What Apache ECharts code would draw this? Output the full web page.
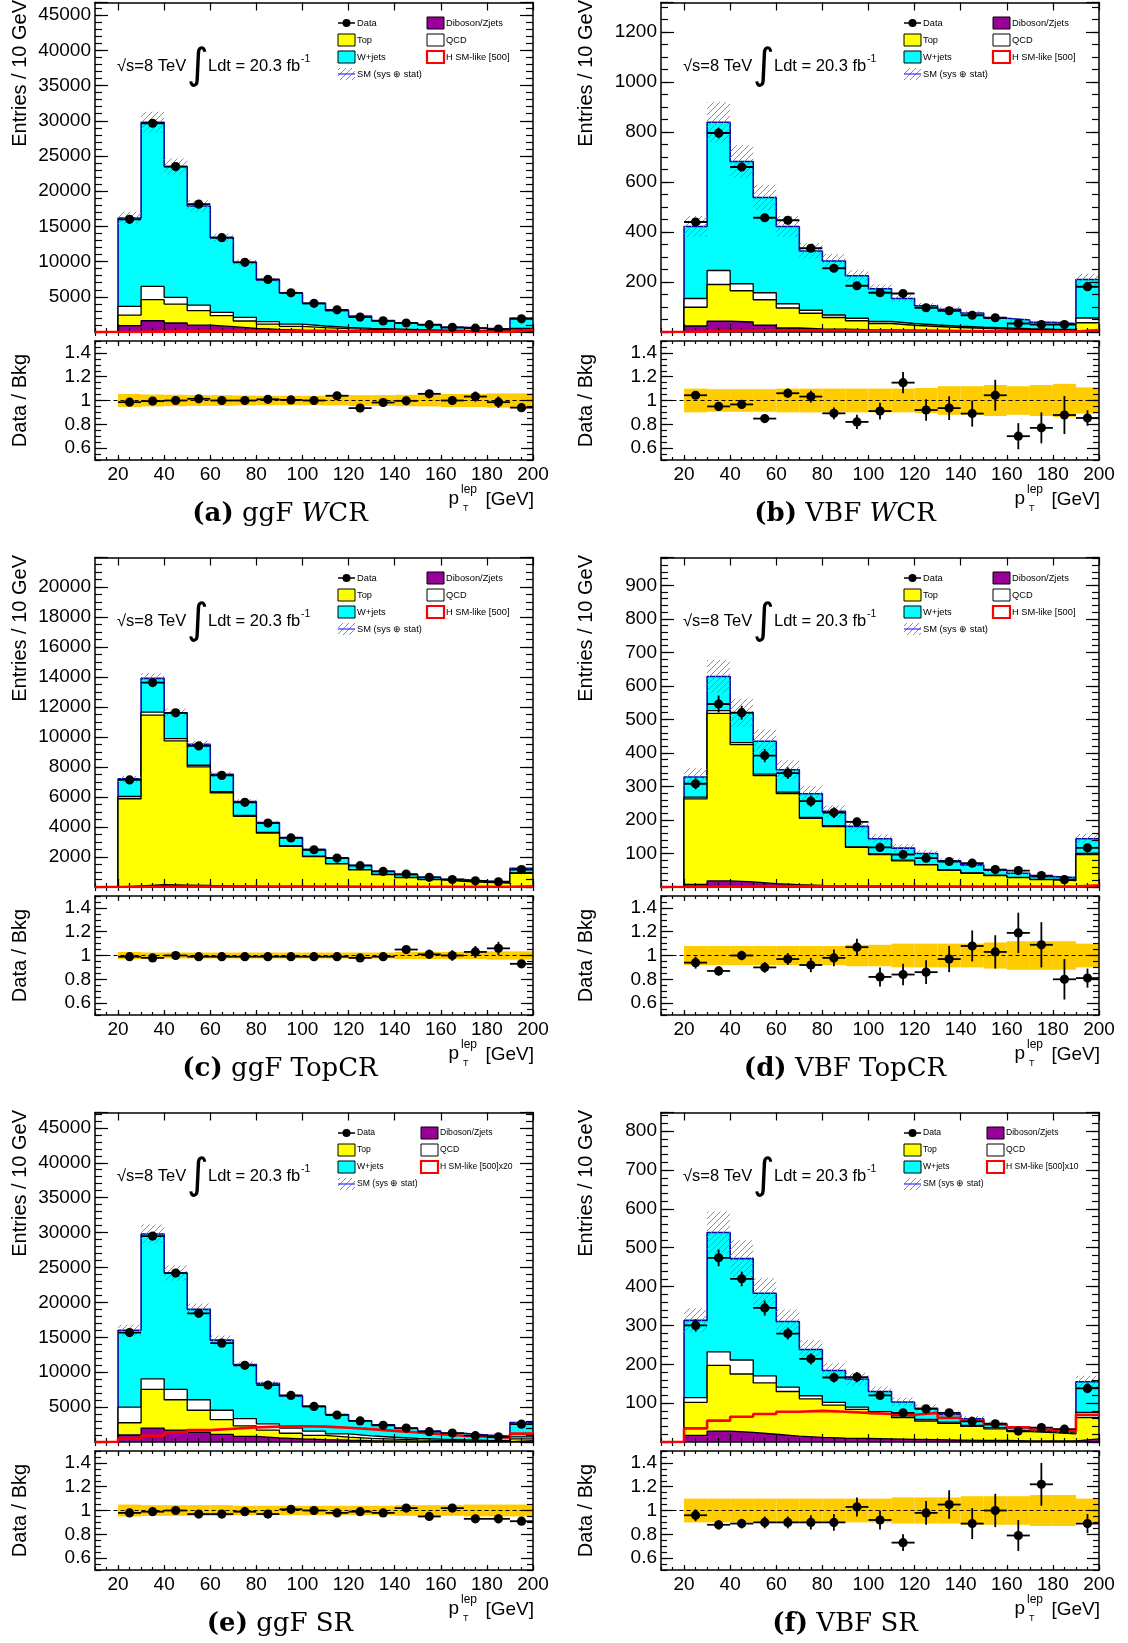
<!DOCTYPE html>
<html>
<head>
<meta charset="utf-8">
<script src="https://cdn.jsdelivr.net/npm/echarts@6/dist/echarts.min.js"></script>
<style>
  html, body { margin: 0; padding: 0; background: #fff; }
  #chart { width: 1128px; height: 1643px; }
</style>
</head>
<body>
<div id="chart"></div>
<script>
// ---- binning and tick labels ----
const binLow = [20, 30, 40, 50, 60, 70, 80, 90, 100, 110, 120, 130, 140, 150, 160, 170, 180, 190];
const binWidth = 10;
const xTickLabels = [20, 40, 60, 80, 100, 120, 140, 160, 180, 200];
const ratioTickLabels = [0.6, 0.8, 1.0, 1.2, 1.4];

// ---- (a) ggF W control region ----
const ggfWcrDib   = [900, 1600, 1280, 990, 760, 520, 380, 280, 240, 190, 150, 120, 95, 75, 60, 50, 40, 150];
const ggfWcrTop   = [1510, 2990, 2690, 2040, 1560, 1040, 750, 520, 375, 280, 230, 170, 145, 115, 90, 70, 60, 250];
const ggfWcrQcd   = [1230, 1890, 950, 800, 470, 520, 340, 330, 235, 190, 140, 140, 90, 90, 70, 60, 50, 120];
const ggfWcrWjets = [12560, 23320, 18580, 14070, 10610, 7820, 5930, 4400, 3220, 2370, 1750, 1180, 950, 710, 440, 340, 280, 1470];
const ggfWcrData  = [16000, 29650, 23500, 18150, 13400, 9900, 7470, 5560, 4070, 3150, 2125, 1580, 1275, 1045, 660, 537, 424, 1870];
const ggfWcrRatio = [0.986, 0.995, 1.0, 1.014, 1.0, 1.0, 1.01, 1.005, 1.0, 1.04, 0.936, 0.983, 0.997, 1.056, 1.0, 1.033, 0.986, 0.94];
const ggfWcrRatioErr = [0.008, 0.006, 0.007, 0.008, 0.009, 0.01, 0.012, 0.013, 0.016, 0.018, 0.022, 0.025, 0.028, 0.031, 0.039, 0.043, 0.048, 0.023];
const ggfWcrBand  = [0.055, 0.05, 0.048, 0.045, 0.045, 0.042, 0.04, 0.04, 0.04, 0.042, 0.045, 0.045, 0.048, 0.05, 0.055, 0.055, 0.06, 0.06];
const ggfWcrSig   = [20, 60, 90, 110, 120, 130, 130, 130, 120, 110, 100, 90, 80, 70, 60, 50, 45, 300];

// ---- (b) VBF W control region ----
const vbfWcrDib   = [24, 43, 40, 27, 16, 12, 11, 9, 8, 7, 6, 5, 5, 4, 4, 3, 3, 8];
const vbfWcrTop   = [75, 147, 125, 102, 80, 63, 47, 36, 26, 20, 16, 13, 10, 8, 6, 6, 5, 29];
const vbfWcrQcd   = [35, 56, 28, 28, 17, 12, 10, 10, 8, 7, 6, 5, 4, 4, 3, 2, 2, 19];
const vbfWcrWjets = [288, 593, 489, 381, 309, 237, 216, 170, 131, 100, 77, 68, 57, 39, 35, 28, 24, 154];
const vbfWcrData  = [440, 796, 660, 457, 447, 335, 255, 185, 157, 154, 97, 85, 67, 57, 34, 30, 30, 181];
const vbfWcrRatio = [1.044, 0.95, 0.967, 0.848, 1.061, 1.033, 0.892, 0.82, 0.911, 1.15, 0.92, 0.936, 0.89, 1.044, 0.70, 0.77, 0.878, 0.853];
const vbfWcrRatioErr = [0.03, 0.025, 0.025, 0.025, 0.04, 0.05, 0.05, 0.06, 0.07, 0.09, 0.09, 0.1, 0.11, 0.13, 0.11, 0.13, 0.16, 0.065];
const vbfWcrBand  = [0.1, 0.095, 0.095, 0.095, 0.1, 0.1, 0.1, 0.1, 0.1, 0.1, 0.105, 0.12, 0.12, 0.13, 0.12, 0.13, 0.14, 0.11];
const vbfWcrSig   = [2, 4, 5, 6, 6, 6, 6, 5, 5, 5, 4, 4, 3, 3, 3, 2, 2, 8];

// ---- (c) ggF top control region ----
const ggfTopDib   = [80, 150, 130, 100, 80, 60, 45, 35, 28, 22, 17, 13, 10, 8, 7, 6, 5, 15];
const ggfTopTop   = [5800, 11300, 9600, 7900, 6200, 4650, 3550, 2680, 2000, 1520, 1120, 810, 620, 480, 370, 300, 250, 900];
const ggfTopQcd   = [150, 200, 150, 110, 80, 60, 45, 35, 25, 20, 15, 12, 10, 8, 6, 5, 4, 20];
const ggfTopWjets = [1170, 2250, 1720, 1390, 1140, 930, 660, 550, 447, 388, 298, 215, 180, 144, 117, 89, 71, 315];
const ggfTopData  = [7130, 13620, 11600, 9400, 7430, 5640, 4260, 3270, 2480, 1930, 1420, 1040, 860, 646, 500, 412, 350, 1160];
const ggfTopRatio = [0.99, 0.98, 1.0, 0.99, 0.99, 0.99, 0.99, 0.99, 0.99, 0.99, 0.98, 0.99, 1.05, 1.01, 1.0, 1.03, 1.06, 0.93];
const ggfTopRatioErr = [0.012, 0.009, 0.009, 0.01, 0.012, 0.013, 0.015, 0.018, 0.02, 0.023, 0.026, 0.031, 0.034, 0.04, 0.045, 0.05, 0.055, 0.028];
const ggfTopBand  = [0.03, 0.025, 0.025, 0.025, 0.025, 0.025, 0.025, 0.025, 0.025, 0.025, 0.025, 0.025, 0.03, 0.03, 0.03, 0.03, 0.035, 0.035];
const ggfTopSig   = [5, 15, 25, 30, 30, 30, 30, 28, 25, 22, 20, 17, 15, 13, 11, 9, 8, 40];

// ---- (d) VBF top control region ----
const vbfTopDib   = [8, 18, 15, 10, 7, 5, 4, 3, 3, 2, 2, 2, 1, 1, 1, 1, 1, 3];
const vbfTopTop   = [255, 500, 410, 322, 272, 200, 176, 115, 94, 76, 64, 48, 40, 33, 27, 21, 18, 94];
const vbfTopQcd   = [5, 8, 6, 5, 4, 3, 3, 2, 2, 2, 1, 1, 1, 1, 1, 1, 1, 3];
const vbfTopWjets = [60, 102, 89, 98, 67, 70, 43, 61, 45, 36, 33, 27, 24, 15, 12, 8, 8, 44];
const vbfTopData  = [308, 546, 520, 392, 340, 256, 222, 194, 118, 97, 86, 76, 71, 52, 49, 34, 22, 117];
const vbfTopRatio = [0.94, 0.87, 1.0, 0.9, 0.97, 0.92, 0.98, 1.07, 0.82, 0.84, 0.86, 0.97, 1.08, 1.03, 1.19, 1.09, 0.80, 0.81];
const vbfTopRatioErr = [0.05, 0.04, 0.04, 0.045, 0.05, 0.06, 0.07, 0.07, 0.08, 0.09, 0.1, 0.11, 0.13, 0.14, 0.17, 0.19, 0.17, 0.08];
const vbfTopBand  = [0.08, 0.08, 0.08, 0.08, 0.08, 0.08, 0.08, 0.09, 0.09, 0.1, 0.1, 0.1, 0.1, 0.11, 0.12, 0.12, 0.12, 0.1];
const vbfTopSig   = [0.5, 1, 1.5, 2, 2, 2, 2, 2, 2, 2, 1.5, 1.5, 1, 1, 1, 1, 1, 5];

// ---- (e) ggF signal region ----
const ggfSrDib   = [1000, 2000, 1700, 1400, 1100, 800, 600, 450, 350, 270, 200, 160, 120, 100, 80, 60, 50, 180];
const ggfSrTop   = [1760, 5550, 4350, 3150, 2100, 1500, 1100, 800, 600, 430, 320, 240, 180, 140, 110, 85, 70, 260];
const ggfSrQcd   = [2240, 1500, 1500, 1500, 1350, 1050, 900, 750, 600, 450, 350, 280, 220, 170, 130, 100, 80, 300];
const ggfSrWjets = [11000, 20750, 16650, 12950, 10050, 7750, 5800, 4600, 3550, 2800, 2180, 1770, 1430, 1150, 930, 735, 610, 2060];
const ggfSrData  = [15680, 29500, 24200, 18430, 14160, 10990, 8150, 6670, 5100, 3870, 3020, 2400, 1990, 1480, 1275, 910, 755, 2550];
const ggfSrRatio = [0.98, 0.99, 1.0, 0.97, 0.97, 0.99, 0.97, 1.01, 1.0, 0.98, 0.99, 0.98, 1.02, 0.95, 1.02, 0.93, 0.93, 0.91];
const ggfSrRatioErr = [0.008, 0.006, 0.007, 0.008, 0.009, 0.01, 0.011, 0.013, 0.015, 0.017, 0.019, 0.021, 0.023, 0.027, 0.029, 0.034, 0.037, 0.02];
const ggfSrBand  = [0.05, 0.045, 0.045, 0.045, 0.045, 0.04, 0.04, 0.04, 0.04, 0.04, 0.04, 0.04, 0.045, 0.045, 0.045, 0.05, 0.05, 0.05];
const ggfSrSig   = [500, 900, 1400, 1700, 1900, 2100, 2200, 2250, 2200, 2050, 1850, 1600, 1350, 1100, 900, 750, 600, 1200];

// ---- (f) VBF signal region ----
const vbfSrDib   = [17, 28, 25, 20, 15, 12, 10, 9, 8, 7, 6, 5, 4, 4, 3, 3, 3, 8];
const vbfSrTop   = [85, 169, 150, 132, 115, 99, 85, 75, 65, 56, 48, 43, 36, 30, 24, 21, 18, 55];
const vbfSrQcd   = [12, 35, 36, 18, 11, 8, 7, 6, 5, 4, 4, 3, 3, 3, 2, 2, 2, 13];
const vbfSrWjets = [199, 307, 261, 213, 169, 119, 82, 72, 52, 36, 29, 20, 17, 10, 7, 4, 2, 79];
const vbfSrData  = [300, 474, 420, 345, 279, 214, 166, 167, 120, 75, 85, 75, 53, 47, 28, 37, 33, 138];
const vbfSrRatio = [0.96, 0.88, 0.89, 0.9, 0.9, 0.9, 0.9, 1.03, 0.92, 0.73, 0.98, 1.05, 0.89, 1.0, 0.79, 1.22, null, 0.89];
const vbfSrRatioErr = [0.05, 0.04, 0.04, 0.05, 0.05, 0.06, 0.07, 0.08, 0.08, 0.07, 0.1, 0.12, 0.13, 0.14, 0.13, 0.18, 0.18, 0.08];
const vbfSrBand  = [0.1, 0.1, 0.1, 0.1, 0.1, 0.1, 0.1, 0.1, 0.1, 0.11, 0.11, 0.11, 0.12, 0.12, 0.12, 0.13, 0.13, 0.1];
const vbfSrSig   = [35, 55, 65, 72, 78, 80, 78, 75, 72, 70, 75, 62, 55, 45, 38, 32, 28, 70];

// ---- page layout ----
const FONT = '"Liberation Sans", Arial, Helvetica, sans-serif';
const SERIF = '"DejaVu Serif", "Liberation Serif", serif';
const FRAME_LEFT = [95, 661];
const FRAME_W = 438;
const MAIN_TOP = 2.5, MAIN_H = 329.5;
const RATIO_TOP = 341, RATIO_H = 119;
const ROW_STEP = 555;
const PAD_CENTER = [282, 847];

const COLORS = {
  dib: '#990099', top: '#ffff00', qcd: '#ffffff', wjets: '#00ffff',
  smLine: '#0a0aa0', band: '#ffcc00', signal: '#ff0000', hatch: '#808080'
};

const panels = [
  { row: 0, col: 0, letter: '(a)', chan: 'ggF', region: 'W', suffix: 'CR',
    dib: ggfWcrDib, top: ggfWcrTop, qcd: ggfWcrQcd, wjets: ggfWcrWjets, data: ggfWcrData,
    ratio: ggfWcrRatio, ratioErr: ggfWcrRatioErr, band: ggfWcrBand, sig: ggfWcrSig,
    yMax: 46800, yStep: 5000, yMinor: 1000, sigName: 'H SM-like [500]', col2: 332, legFs: 9.3 },
  { row: 0, col: 1, letter: '(b)', chan: 'VBF', region: 'W', suffix: 'CR',
    dib: vbfWcrDib, top: vbfWcrTop, qcd: vbfWcrQcd, wjets: vbfWcrWjets, data: vbfWcrData,
    ratio: vbfWcrRatio, ratioErr: vbfWcrRatioErr, band: vbfWcrBand, sig: vbfWcrSig,
    yMax: 1318, yStep: 200, yMinor: 50, sigName: 'H SM-like [500]', col2: 332, legFs: 9.3 },
  { row: 1, col: 0, letter: '(c)', chan: 'ggF', region: '', suffix: 'TopCR',
    dib: ggfTopDib, top: ggfTopTop, qcd: ggfTopQcd, wjets: ggfTopWjets, data: ggfTopData,
    ratio: ggfTopRatio, ratioErr: ggfTopRatioErr, band: ggfTopBand, sig: ggfTopSig,
    yMax: 21950, yStep: 2000, yMinor: 500, sigName: 'H SM-like [500]', col2: 332, legFs: 9.3 },
  { row: 1, col: 1, letter: '(d)', chan: 'VBF', region: '', suffix: 'TopCR',
    dib: vbfTopDib, top: vbfTopTop, qcd: vbfTopQcd, wjets: vbfTopWjets, data: vbfTopData,
    ratio: vbfTopRatio, ratioErr: vbfTopRatioErr, band: vbfTopBand, sig: vbfTopSig,
    yMax: 983, yStep: 100, yMinor: 20, sigName: 'H SM-like [500]', col2: 332, legFs: 9.3 },
  { row: 2, col: 0, letter: '(e)', chan: 'ggF', region: '', suffix: 'SR',
    dib: ggfSrDib, top: ggfSrTop, qcd: ggfSrQcd, wjets: ggfSrWjets, data: ggfSrData,
    ratio: ggfSrRatio, ratioErr: ggfSrRatioErr, band: ggfSrBand, sig: ggfSrSig,
    yMax: 47200, yStep: 5000, yMinor: 1000, sigName: 'H SM-like [500]x20', col2: 326, legFs: 8.6 },
  { row: 2, col: 1, letter: '(f)', chan: 'VBF', region: '', suffix: 'SR',
    dib: vbfSrDib, top: vbfSrTop, qcd: vbfSrQcd, wjets: vbfSrWjets, data: vbfSrData,
    ratio: vbfSrRatio, ratioErr: vbfSrRatioErr, band: vbfSrBand, sig: vbfSrSig,
    yMax: 848, yStep: 100, yMinor: 20, sigName: 'H SM-like [500]x10', col2: 326, legFs: 8.6 }
];

// diagonal hatch tile used for the SM uncertainty band
function makeHatch() {
  const c = document.createElement('canvas');
  c.width = 6; c.height = 6;
  const g = c.getContext('2d');
  g.strokeStyle = COLORS.hatch;
  g.lineWidth = 0.9;
  g.beginPath();
  g.moveTo(0, 6); g.lineTo(6, 0);
  g.moveTo(-1, 1); g.lineTo(1, -1);
  g.moveTo(5, 7); g.lineTo(7, 5);
  g.stroke();
  return { image: c, repeat: 'repeat' };
}
const hatchFill = makeHatch();

const option = {
  animation: false,
  backgroundColor: '#ffffff',
  grid: [], xAxis: [], yAxis: [], series: [], graphic: []
};

const frameLine = { show: true, onZero: false, lineStyle: { color: '#000', width: 1.5 } };
const tickLine = { color: '#000', width: 1.2 };

function addX(gi, showLabels, majorLen, minorLen) {
  const idx = option.xAxis.length;
  for (const pos of ['bottom', 'top']) {
    option.xAxis.push({
      type: 'value', gridIndex: gi, min: 10, max: 200, position: pos, z: 10,
      splitLine: { show: false }, axisLine: frameLine,
      axisTick: { show: true, inside: true, length: majorLen, customValues: xTickLabels, lineStyle: tickLine },
      axisLabel: { show: showLabels && pos === 'bottom', customValues: xTickLabels, margin: 5,
        fontSize: 19, fontFamily: FONT, color: '#000' }
    });
  }
  for (const pos of ['bottom', 'top']) {
    option.xAxis.push({
      type: 'value', gridIndex: gi, min: 10, max: 200, interval: 5, position: pos, z: 10,
      splitLine: { show: false }, axisLine: { show: false },
      axisTick: { show: true, inside: true, length: minorLen, lineStyle: tickLine },
      axisLabel: { show: false }
    });
  }
  return idx;
}

function addY(gi, min, max, major, minorStep, majorLen, minorLen, fmt) {
  const idx = option.yAxis.length;
  for (const pos of ['left', 'right']) {
    const ax = {
      type: 'value', gridIndex: gi, min, max, position: pos, z: 10,
      splitLine: { show: false }, axisLine: frameLine,
      axisTick: { show: true, inside: true, length: majorLen, lineStyle: tickLine },
      axisLabel: { show: pos === 'left', margin: 4, fontSize: 19, fontFamily: FONT, color: '#000', formatter: fmt }
    };
    if (major.interval) ax.interval = major.interval;
    if (major.customValues) {
      ax.axisTick.customValues = major.customValues;
      ax.axisLabel.customValues = major.customValues;
    }
    option.yAxis.push(ax);
  }
  for (const pos of ['left', 'right']) {
    option.yAxis.push({
      type: 'value', gridIndex: gi, min, max, interval: minorStep, position: pos, z: 10,
      splitLine: { show: false }, axisLine: { show: false },
      axisTick: { show: true, inside: true, length: minorLen, lineStyle: tickLine },
      axisLabel: { show: false }
    });
  }
  return idx;
}

// outline of a histogram as a step polyline over the bin edges
function stepPoints(vals, startX) {
  const pts = [[startX, 0]];
  if (startX < binLow[0]) pts.push([binLow[0], 0]);
  binLow.forEach((x, i) => pts.push([x, vals[i]]));
  pts.push([binLow[binLow.length - 1] + binWidth, vals[vals.length - 1]]);
  return pts;
}

function rectRender(fill) {
  return function (params, api) {
    const a = api.coord([api.value(0), api.value(3)]);
    const b = api.coord([api.value(1), api.value(2)]);
    return { type: 'rect', shape: { x: a[0], y: a[1], width: b[0] - a[0], height: b[1] - a[1] },
      style: { fill: fill, stroke: null } };
  };
}

function pointRender(params, api) {
  const xl = api.value(0), xh = api.value(1), y = api.value(2), e = api.value(3);
  const pL = api.coord([xl, y]), pR = api.coord([xh, y]);
  const pT = api.coord([(xl + xh) / 2, y + e]), pB = api.coord([(xl + xh) / 2, y - e]);
  const cx = (pL[0] + pR[0]) / 2;
  const st = { stroke: '#000', lineWidth: 1.8 };
  return { type: 'group', children: [
    { type: 'line', shape: { x1: pL[0], y1: pL[1], x2: pR[0], y2: pR[1] }, style: st },
    { type: 'line', shape: { x1: cx, y1: pT[1], x2: cx, y2: pB[1] }, style: st },
    { type: 'circle', shape: { cx: cx, cy: pL[1], r: 4.6 }, style: { fill: '#000' } }
  ] };
}

function txt(x, y, text, size, extra) {
  return { type: 'text', x: x, y: y, z: 100, silent: true,
    style: Object.assign({ text: text, fontSize: size, fontFamily: FONT, fill: '#000',
      align: 'left', verticalAlign: 'middle' }, extra || {}) };
}

function legendGraphics(fl, ft, col2, sigName, fs) {
  const g = [];
  const bx1 = fl + 243, bx2 = fl + col2, bw = 17, bh = 12;
  const rows = [ft + 20.5, ft + 37.5, ft + 54.5, ft + 71.5];
  // data marker
  g.push({ type: 'line', z: 100, silent: true, shape: { x1: bx1, y1: rows[0], x2: bx1 + bw, y2: rows[0] }, style: { stroke: '#000', lineWidth: 1.5 } });
  g.push({ type: 'circle', z: 100, silent: true, shape: { cx: bx1 + bw / 2, cy: rows[0], r: 4 }, style: { fill: '#000' } });
  g.push(txt(bx1 + 19, rows[0], 'Data', fs));
  const box = (x, y, fill, stroke, lw) => ({ type: 'rect', z: 100, silent: true,
    shape: { x: x, y: y - bh / 2, width: bw, height: bh }, style: { fill: fill, stroke: stroke, lineWidth: lw } });
  g.push(box(bx1, rows[1], COLORS.top, '#000', 1));
  g.push(txt(bx1 + 19, rows[1], 'Top', fs));
  g.push(box(bx1, rows[2], COLORS.wjets, '#000', 1));
  g.push(txt(bx1 + 19, rows[2], 'W+jets', fs));
  g.push({ type: 'rect', z: 100, silent: true, shape: { x: bx1, y: rows[3] - bh / 2, width: bw, height: bh }, style: { fill: hatchFill, stroke: null } });
  g.push({ type: 'line', z: 100, silent: true, shape: { x1: bx1, y1: rows[3], x2: bx1 + bw, y2: rows[3] }, style: { stroke: '#3030ff', lineWidth: 1.2 } });
  g.push(txt(bx1 + 19, rows[3], 'SM (sys \u2295 stat)', fs));
  g.push(box(bx2, rows[0], COLORS.dib, '#000', 1));
  g.push(txt(bx2 + 19, rows[0], 'Diboson/Zjets', fs));
  g.push(box(bx2, rows[1], '#fff', '#000', 1));
  g.push(txt(bx2 + 19, rows[1], 'QCD', fs));
  g.push(box(bx2, rows[2], '#fff', COLORS.signal, 2.2));
  g.push(txt(bx2 + 19, rows[2], sigName, fs));
  return g;
}

panels.forEach((p) => {
  const fl = FRAME_LEFT[p.col];
  const off = p.row * ROW_STEP;
  const ft = MAIN_TOP + off;

  const gMain = option.grid.length;
  option.grid.push({ left: fl, top: ft, width: FRAME_W, height: MAIN_H, outerBoundsMode: 'none' });
  const gRatio = option.grid.length;
  option.grid.push({ left: fl, top: RATIO_TOP + off, width: FRAME_W, height: RATIO_H, outerBoundsMode: 'none' });

  const xm = addX(gMain, false, 8, 4);
  const ym = addY(gMain, 0, p.yMax, { interval: p.yStep }, p.yMinor, 13, 7,
    v => (v > 0 && Math.abs(v % p.yStep) < 1e-6) ? String(v) : '');
  const xr = addX(gRatio, true, 5, 3);
  const yr = addY(gRatio, 0.5, 1.5, { customValues: ratioTickLabels }, 0.05, 12, 6,
    v => Math.abs(v - 1) < 1e-9 ? '1' : v.toFixed(1));

  // cumulative stack levels, bottom to top
  const lvDib = p.dib.slice();
  const lvTop = lvDib.map((v, i) => v + p.top[i]);
  const lvQcd = lvTop.map((v, i) => v + p.qcd[i]);
  const lvAll = lvQcd.map((v, i) => v + p.wjets[i]);

  const layers = [
    { lv: lvAll, fill: COLORS.wjets, line: COLORS.smLine, w: 1.6, z: 2 },
    { lv: lvQcd, fill: COLORS.qcd, line: '#000', w: 1.3, z: 3 },
    { lv: lvTop, fill: COLORS.top, line: '#000', w: 1.3, z: 4 },
    { lv: lvDib, fill: COLORS.dib, line: '#000', w: 1.3, z: 5 }
  ];
  layers.forEach(L => {
    option.series.push({
      type: 'line', xAxisIndex: xm, yAxisIndex: ym, step: 'end', z: L.z,
      data: stepPoints(L.lv, binLow[0]), showSymbol: false, symbol: 'none',
      lineStyle: { color: L.line, width: L.w },
      areaStyle: { color: L.fill, opacity: 1, origin: 'start' },
      silent: true
    });
  });

  // SM uncertainty hatch
  option.series.push({
    type: 'custom', xAxisIndex: xm, yAxisIndex: ym, z: 6, silent: true, clip: true,
    renderItem: rectRender(hatchFill),
    encode: { x: [0, 1], y: [2, 3] },
    data: binLow.map((x, i) => [x, x + binWidth, lvAll[i] * (1 - p.band[i]), lvAll[i] * (1 + p.band[i])])
  });

  // Higgs signal overlay
  option.series.push({
    type: 'line', xAxisIndex: xm, yAxisIndex: ym, step: 'end', z: 11, silent: true,
    data: stepPoints(p.sig, 10), showSymbol: false, symbol: 'none',
    lineStyle: { color: COLORS.signal, width: 2.6 }
  });

  // observed data
  option.series.push({
    type: 'custom', xAxisIndex: xm, yAxisIndex: ym, z: 12, silent: true, clip: true,
    renderItem: pointRender, encode: { x: [0, 1], y: [2, 3] },
    data: binLow.map((x, i) => [x, x + binWidth, p.data[i], p.ratioErr[i] * lvAll[i]])
  });

  // ratio panel: uncertainty band, unity line, data/bkg points
  option.series.push({
    type: 'custom', xAxisIndex: xr, yAxisIndex: yr, z: 3, silent: true, clip: true,
    renderItem: rectRender(COLORS.band), encode: { x: [0, 1], y: [2, 3] },
    data: binLow.map((x, i) => [x, x + binWidth, 1 - p.band[i], 1 + p.band[i]])
  });
  option.series.push({
    type: 'line', xAxisIndex: xr, yAxisIndex: yr, z: 4, silent: true,
    data: [[15, 1], [200, 1]], showSymbol: false, symbol: 'none',
    lineStyle: { color: '#000', width: 1, type: [4, 3] }
  });
  option.series.push({
    type: 'custom', xAxisIndex: xr, yAxisIndex: yr, z: 12, silent: true, clip: true,
    renderItem: pointRender, encode: { x: [0, 1], y: [2, 3] },
    data: binLow.map((x, i) => p.ratio[i] == null ? null : [x, x + binWidth, p.ratio[i], p.ratioErr[i]])
      .filter(d => d !== null)
  });

  // axis titles
  const yTitle = txt(fl - 75, 0 + off, 'Entries / 10 GeV', 20, { align: 'right', verticalAlign: 'middle' });
  yTitle.rotation = Math.PI / 2;
  option.graphic.push(yTitle);
  const rTitle = txt(fl - 75, RATIO_TOP + off + RATIO_H / 2, 'Data / Bkg', 20, { align: 'center', verticalAlign: 'middle' });
  rTitle.rotation = Math.PI / 2;
  option.graphic.push(rTitle);

  const fr = fl + FRAME_W;
  option.graphic.push(txt(fr + 1, 500 + off, '[GeV]', 19, { align: 'right' }));
  option.graphic.push(txt(fr - 74, 499 + off, 'p', 19, { align: 'right' }));
  option.graphic.push(txt(fr - 72, 490 + off, 'lep', 12, { align: 'left' }));
  option.graphic.push(txt(fr - 70, 509 + off, 'T', 9, { align: 'left' }));

  // energy and luminosity
  option.graphic.push(txt(fl + 22, ft + 64, '\u221As=8 TeV', 16.5));
  option.graphic.push(txt(fl + 103, ft + 65, '\u222B', 42, { align: 'center', fontFamily: '"DejaVu Sans", sans-serif' }));
  option.graphic.push(txt(fl + 113, ft + 64, 'Ldt = 20.3 fb', 16.5));
  option.graphic.push(txt(fl + 206, ft + 57, '-1', 10.5));

  // legend
  legendGraphics(fl, ft, p.col2, p.sigName, p.legFs).forEach(e => option.graphic.push(e));

  // panel caption
  const rs = { fontFamily: SERIF, fontSize: 26 };
  option.graphic.push({
    type: 'text', x: PAD_CENTER[p.col] - 2, y: 514 + off, z: 100, silent: true,
    style: {
      text: '{b|' + p.letter + '}{r| ' + p.chan + ' }' + (p.region ? '{i|' + p.region + '}' : '') + '{r|' + p.suffix + '}',
      align: 'center', verticalAlign: 'middle', fill: '#000',
      rich: {
        b: Object.assign({ fontWeight: 'bold' }, rs),
        r: Object.assign({}, rs),
        i: Object.assign({ fontStyle: 'italic' }, rs)
      }
    }
  });
});

const chart = echarts.init(document.getElementById('chart'), null, { renderer: 'canvas' });
chart.setOption(option);
</script>
</body>
</html>
